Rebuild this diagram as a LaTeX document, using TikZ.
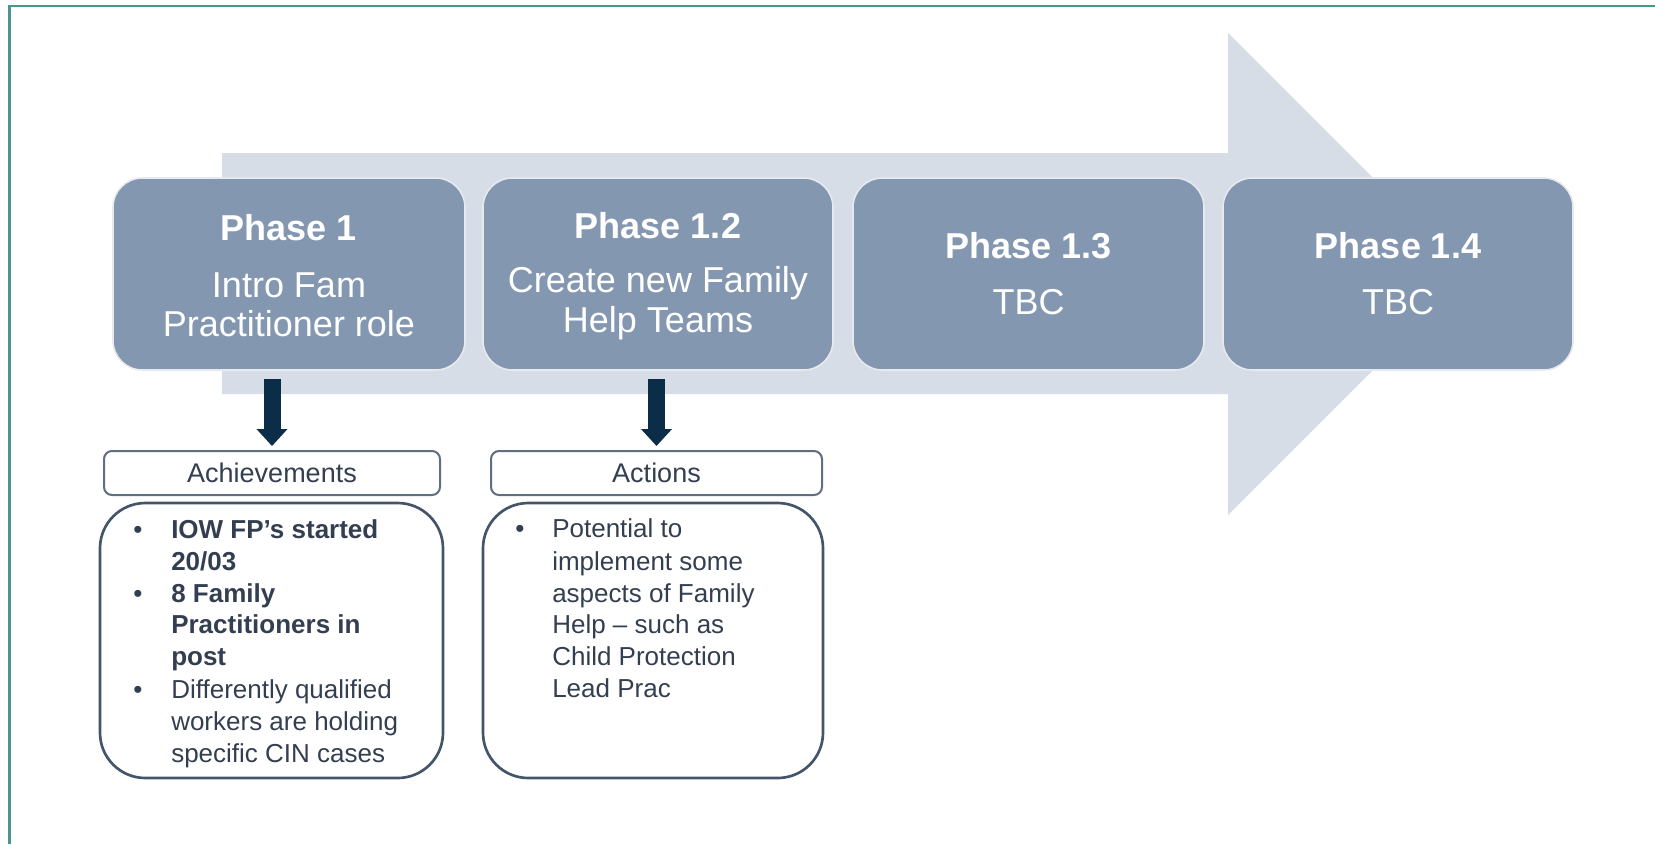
\documentclass[tikz,border=0pt]{standalone}
\usepackage{fontspec}
\setmainfont{Liberation Sans}
\usetikzlibrary{arrows.meta}
\definecolor{arrowbg}{HTML}{D6DDE6}
\definecolor{phasefill}{HTML}{8497B0}
\definecolor{navyc}{HTML}{0C2D48}
\definecolor{outlinec}{HTML}{44546A}
\definecolor{labeloutline}{HTML}{5F6E80}
\definecolor{txtc}{HTML}{333F50}
\definecolor{tealc}{HTML}{4A968F}
\begin{document}
\begin{tikzpicture}[x=0.75pt,y=-0.75pt,
  phasebox/.style={fill=phasefill, draw=white!80!phasefill, line width=1.2pt, rounded corners=22pt, inner sep=0pt, minimum height=144pt},
  hdr/.style={anchor=base, text=white, font=\fontsize{27}{30}\selectfont\bfseries, inner sep=0pt},
  body/.style={anchor=base, text=white, font=\fontsize{27}{30}\selectfont, inner sep=0pt},
  labelbox/.style={draw=labeloutline, line width=1.5pt, rounded corners=6pt, fill=white, inner sep=0pt, minimum height=33pt, text=txtc, font=\fontsize{20.25}{24}\selectfont},
  listbox/.style={draw=outlinec, line width=2pt, rounded corners=34pt, inner sep=0pt, minimum height=206.25pt},
  btxt/.style={anchor=base west, text=txtc, font=\fontsize{19.5}{24}\selectfont, inner sep=0pt},
  bbtxt/.style={btxt, font=\fontsize{19.5}{24}\selectfont\bfseries},
  bul/.style={anchor=base, text=txtc, font=\fontsize{19.5}{24}\selectfont, inner sep=0pt},
  fatarrow/.style={draw=navyc, line width=12.75pt, -{Triangle[width=22.5pt,length=12.75pt]}}
]
\useasboundingbox (0,0) rectangle (1655,844);
% border
\draw[tealc, line width=2.2pt] (9.5,844) -- (9.5,6) -- (1655,6);
% big background arrow
\fill[arrowbg] (222,153) -- (1228,153) -- (1228,33) -- (1469,274) -- (1228,515) -- (1228,394) -- (222,394) -- cycle;
% phase boxes
\node[phasebox, minimum width=264pt] (ph1) at (289,274) {};
\node[phasebox, minimum width=262.5pt] (ph2) at (658,274) {};
\node[phasebox, minimum width=263.25pt] (ph3) at (1028.5,274) {};
\node[phasebox, minimum width=262.5pt] (ph4) at (1398,274) {};
% phase texts
\node[hdr] (ph1h) at (289,240) {Phase 1};
\node[body] (ph1a) at (289,297) {Intro Fam};
\node[body] (ph1b) at (289,336) {Practitioner role};
\node[hdr] (ph2h) at (658,238) {Phase 1.2};
\node[body] (ph2a) at (658,292) {Create new Family};
\node[body] (ph2b) at (658,332) {Help Teams};
\node[hdr] (ph3h) at (1028.5,258) {Phase 1.3};
\node[body] (ph3a) at (1028.5,314) {TBC};
\node[hdr] (ph4h) at (1398,258) {Phase 1.4};
\node[body] (ph4a) at (1398,314) {TBC};
% label boxes
\node[labelbox, minimum width=252pt] (ach) at (272,473) {Achievements};
\node[labelbox, minimum width=248.25pt] (act) at (656.5,473) {Actions};
% fat arrows
\draw[fatarrow] ([yshift=-6pt]ph1.south -| ach.north) -- ([yshift=3pt]ach.north);
\draw[fatarrow] ([yshift=-6pt]ph2.south -| act.north) -- ([yshift=3pt]act.north);
% list boxes
\node[listbox, minimum width=257.25pt] (lst1) at (271.5,640.5) {};
\node[listbox, minimum width=255pt] (lst2) at (653,640.5) {};
% list 1 text
\node[bul] (b1a) at (138,538) {•};
\node[bbtxt] (l1a) at (171,538) {IOW FP’s started};
\node[bbtxt] (l1b) at (171,570) {20/03};
\node[bul] (b1b) at (138,602) {•};
\node[bbtxt] (l1c) at (171,602) {8 Family};
\node[bbtxt] (l1d) at (171,633) {Practitioners in};
\node[bbtxt] (l1e) at (171,665) {post};
\node[bul] (b1c) at (138,698) {•};
\node[btxt] (l1f) at (171,698) {Differently qualified};
\node[btxt] (l1g) at (171,730) {workers are holding};
\node[btxt] (l1h) at (171,762) {specific CIN cases};
% list 2 text
\node[bul] (b2a) at (520,537) {•};
\node[btxt] (l2a) at (552,537) {Potential to};
\node[btxt] (l2b) at (552,570) {implement some};
\node[btxt] (l2c) at (552,602) {aspects of Family};
\node[btxt] (l2d) at (552,633) {Help – such as};
\node[btxt] (l2e) at (552,665) {Child Protection};
\node[btxt] (l2f) at (552,697) {Lead Prac};
\end{tikzpicture}
\end{document}
